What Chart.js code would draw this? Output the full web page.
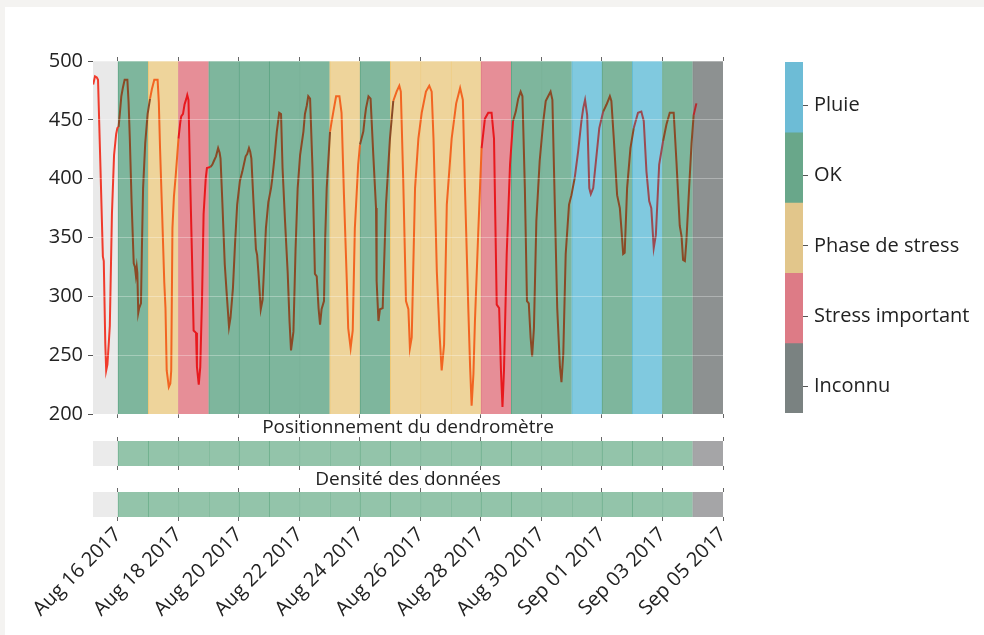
<!DOCTYPE html>
<html>
<head>
<meta charset="utf-8">
<script src="https://cdn.jsdelivr.net/npm/chart.js@4.4.0/dist/chart.umd.min.js"></script>
<style>
  body { margin: 0; width: 984px; height: 635px; overflow: hidden; position: relative; background: #f4f3f1; }
  #card { position: absolute; left: 5px; top: 7px; right: 0; bottom: 0; background: #fff; }
  canvas { position: absolute; }
</style>
</head>
<body>
<div id="card"></div>
<canvas id="mainChart" width="760" height="401" style="left:0;top:30px"></canvas>
<canvas id="posChart" width="760" height="56" style="left:0;top:416px"></canvas>
<canvas id="densChart" width="760" height="167" style="left:0;top:468px"></canvas>
<canvas id="legendChart" width="224" height="400" style="left:760px;top:40px"></canvas>
<script>
// days are counted from Aug 16 2017 00:00
const xTickLabels = ["Aug 16 2017", "Aug 18 2017", "Aug 20 2017", "Aug 22 2017", "Aug 24 2017",
  "Aug 26 2017", "Aug 28 2017", "Aug 30 2017", "Sep 01 2017", "Sep 03 2017", "Sep 05 2017"];
const yTickValues = [200, 250, 300, 350, 400, 450, 500];

// state of each day, Aug 16 -> Sep 04
const dayStates = ["OK", "Phase de stress", "Stress important", "OK", "OK", "OK", "OK",
  "Phase de stress", "OK", "Phase de stress", "Phase de stress", "Phase de stress",
  "Stress important", "OK", "OK", "Pluie", "OK", "Pluie", "OK", "Inconnu"];
const positionStates = ["OK", "OK", "OK", "OK", "OK", "OK", "OK", "OK", "OK", "OK",
  "OK", "OK", "OK", "OK", "OK", "OK", "OK", "OK", "OK", "Inconnu"];
const densityStates = ["OK", "OK", "OK", "OK", "OK", "OK", "OK", "OK", "OK", "OK",
  "OK", "OK", "OK", "OK", "OK", "OK", "OK", "OK", "OK", "Inconnu"];
const legendStates = ["Pluie", "OK", "Phase de stress", "Stress important", "Inconnu"];

// dendrometer trace (time in days, value)
const lineTime = [-0.82, -0.76, -0.70, -0.66, -0.58, -0.50, -0.47, -0.42, -0.39, -0.35, -0.30, -0.27, -0.20, -0.13, -0.06, -0.02,
  0.02, 0.06, 0.11, 0.16, 0.22, 0.31, 0.35, 0.39, 0.45, 0.52, 0.56, 0.59, 0.62, 0.64, 0.67, 0.70, 0.76, 0.79, 0.83, 0.90, 0.98,
  1.06, 1.12, 1.20, 1.31, 1.35, 1.39, 1.46, 1.53, 1.57, 1.61, 1.68, 1.73, 1.76, 1.80, 1.85, 1.91,
  2.00, 2.06, 2.09, 2.15, 2.20, 2.26, 2.29, 2.33, 2.39, 2.45, 2.50, 2.58, 2.61, 2.67, 2.72, 2.78, 2.83, 2.90, 2.94,
  3.06, 3.12, 3.17, 3.24, 3.31, 3.36, 3.39, 3.45, 3.53, 3.60, 3.67, 3.72, 3.80, 3.87, 3.94,
  4.03, 4.11, 4.22, 4.27, 4.33, 4.37, 4.41, 4.48, 4.56, 4.60, 4.64, 4.72, 4.78, 4.84, 4.89, 4.97,
  5.06, 5.10, 5.17, 5.25, 5.33, 5.39, 5.44, 5.52, 5.61, 5.67, 5.72, 5.76, 5.80, 5.87, 5.94,
  6.02, 6.13, 6.18, 6.24, 6.29, 6.35, 6.43, 6.51, 6.57, 6.63, 6.68, 6.73, 6.81, 6.85, 6.90,
  7.01, 7.06, 7.12, 7.21, 7.32, 7.39, 7.47, 7.56, 7.61, 7.69, 7.76, 7.83, 7.94,
  8.00, 8.11, 8.16, 8.20, 8.28, 8.35, 8.44, 8.53, 8.55, 8.61, 8.66, 8.75, 8.86, 8.99,
  9.10, 9.21, 9.30, 9.35, 9.43, 9.52, 9.60, 9.65, 9.71, 9.82, 9.93,
  10.04, 10.18, 10.29, 10.37, 10.43, 10.54, 10.63, 10.70, 10.78, 10.87,
  11.03, 11.18, 11.31, 11.40, 11.47, 11.58, 11.64, 11.69, 11.75, 11.80, 11.91,
  12.02, 12.13, 12.24, 12.35, 12.43, 12.52, 12.60, 12.66, 12.71, 12.76, 12.85, 12.96,
  13.06, 13.15, 13.23, 13.31, 13.37, 13.45, 13.52, 13.58, 13.64, 13.69, 13.75, 13.83, 13.94,
  14.06, 14.14, 14.22, 14.30, 14.36, 14.44, 14.52, 14.61, 14.66, 14.72, 14.80, 14.91, 14.99,
  15.10, 15.21, 15.32, 15.38, 15.44, 15.51, 15.58, 15.63, 15.71, 15.80, 15.91,
  16.04, 16.15, 16.26, 16.31, 16.39, 16.50, 16.59, 16.64, 16.70, 16.75, 16.83, 16.94,
  17.05, 17.19, 17.30, 17.38, 17.47, 17.56, 17.63, 17.71, 17.78, 17.89,
  18.02, 18.13, 18.24, 18.37, 18.46, 18.57, 18.63, 18.68, 18.74, 18.79, 18.88, 18.96,
  19.03, 19.12];
const lineValue = [480, 487, 486, 484, 410, 334, 330, 260, 237, 242, 262, 275, 370, 420, 438, 443,
  444, 455, 470, 477, 484, 484, 465, 435, 380, 328, 325, 318, 325, 320, 286, 290, 294, 340, 392, 430, 455,
  468, 476, 484, 484, 465, 426, 370, 312, 290, 237, 223, 226, 237, 358, 385, 403,
  434, 448, 453, 455, 463, 468, 471, 467, 395, 330, 271, 269, 240, 225, 240, 300, 370, 400, 409,
  410, 412, 415, 419, 426, 422, 417, 380, 327, 300, 274, 282, 307, 345, 378,
  398, 406, 419, 421, 426, 423, 417, 380, 340, 335, 321, 289, 297, 330, 358, 380,
  392, 400, 417, 440, 456, 455, 409, 365, 320, 279, 254, 262, 270, 340, 392,
  420, 440, 455, 462, 470, 468, 409, 319, 317, 290, 276, 289, 296, 350, 392,
  440, 448, 457, 470, 470, 456, 386, 316, 273, 256, 271, 358, 412,
  429, 440, 452, 460, 470, 468, 420, 375, 313, 279, 289, 290, 378, 434,
  466, 474, 479, 474, 398, 296, 289, 256, 265, 392, 434,
  456, 474, 479, 474, 434, 321, 268, 237, 259, 378,
  434, 464, 477, 467, 392, 290, 240, 207, 234, 279, 355,
  426, 451, 456, 456, 434, 293, 290, 237, 206, 237, 336, 412,
  449, 457, 468, 474, 470, 392, 296, 294, 265, 249, 273, 364, 415,
  449, 466, 470, 474, 467, 378, 290, 240, 227, 251, 336, 378, 386,
  401, 423, 449, 460, 467, 454, 392, 387, 392, 415, 443,
  457, 463, 470, 466, 434, 386, 375, 358, 336, 337, 392, 426,
  443, 456, 457, 449, 406, 381, 375, 341, 352, 412,
  432, 446, 456, 456, 415, 360, 351, 331, 330, 347, 392, 430,
  454, 464];

// styles
const tMin = -0.826;
const tMax = 20;
const bandColors = { "Pluie": "#80c9df", "OK": "#7eb69d", "Phase de stress": "#eed49b", "Stress important": "#e68e97", "Inconnu": "#8d9191" };
const bandEdges = { "Pluie": "#62bcd2", "OK": "#5fa585", "Phase de stress": "#f0c874", "Stress important": "#e07a86", "Inconnu": "#858a8a" };
const stripColors = { "OK": "#93c4aa", "Inconnu": "#a5a5a7" };
const stripEdges = { "OK": "#6fb08e", "Inconnu": "#a0a0a2" };
const legendColors = { "Pluie": "#6dbcd6", "OK": "#69a78a", "Phase de stress": "#e2c68b", "Stress important": "#dd7b86", "Inconnu": "#7a8281" };
const lineColors = { pre: "#f03b2c", "OK": "#8a4a26", "Phase de stress": "#f26522", "Stress important": "#e8191e", "Pluie": "#9b4b52", "Inconnu": "#b82a2c" };

Chart.defaults.font.family = '"Open Sans", "Noto Sans", sans-serif';
Chart.defaults.color = "#222";
Chart.defaults.animation = false;

// gray panel behind each plot area
const panelBg = {
  id: "panelBg",
  beforeDraw(chart, args, opts) {
    const { ctx, chartArea: a } = chart;
    ctx.save();
    ctx.fillStyle = opts.color;
    ctx.fillRect(a.left, a.top, a.width, a.height);
    ctx.restore();
  }
};

function lineColorAt(t) {
  if (t < 0) return lineColors.pre;
  const i = Math.min(dayStates.length - 1, Math.floor(t));
  return lineColors[dayStates[i]];
}

function xAxis(position, height, showLabels) {
  return {
    type: "linear",
    position: position,
    min: tMin,
    max: tMax,
    bounds: "data",
    offset: false,
    grid: { drawOnChartArea: false, offset: false, tickLength: 4, tickColor: "#666" },
    border: { display: false },
    ticks: showLabels
      ? {
          autoSkip: false,
          minRotation: 45,
          maxRotation: 45,
          padding: 2,
          font: { size: 20 },
          color: "#222",
          callback: (v) => xTickLabels[Math.round(v / 2)]
        }
      : { display: false },
    afterBuildTicks: (s) => {
      s.ticks = xTickLabels.map((_, i) => ({ value: i * 2 }));
    },
    afterFit: (s) => {
      s.height = height;
    }
  };
}

function bandDataset(states, colors, edges, lo, hi) {
  return {
    type: "bar",
    data: states.map((s, i) => ({ x: i + 0.5, y: [lo, hi] })),
    backgroundColor: states.map((s) => colors[s]),
    borderColor: states.map((s) => edges[s]),
    borderWidth: { left: 1, right: 0, top: 0, bottom: 0 },
    borderSkipped: false,
    barPercentage: 1,
    categoryPercentage: 1,
    order: 2
  };
}

// main dendrometer chart
new Chart(document.getElementById("mainChart"), {
  type: "line",
  data: {
    datasets: [
      bandDataset(dayStates, bandColors, bandEdges, yTickValues[0], yTickValues[yTickValues.length - 1]),
      {
        type: "line",
        data: lineTime.map((t, i) => ({ x: t, y: lineValue[i] })),
        borderColor: lineColors.OK,
        borderWidth: 2,
        pointRadius: 0,
        tension: 0,
        segment: { borderColor: (ctx) => lineColorAt(ctx.p0.parsed.x) },
        order: 1
      }
    ]
  },
  options: {
    responsive: false,
    layout: { padding: { left: 0, right: 37, top: 0, bottom: 0 } },
    scales: {
      x: xAxis("bottom", 16, false),
      xTop: xAxis("top", 31, false),
      y: {
        type: "linear",
        min: yTickValues[0],
        max: yTickValues[yTickValues.length - 1],
        ticks: { font: { size: 20 }, color: "#222", padding: 5 },
        afterBuildTicks: (s) => {
          s.ticks = yTickValues.map((v) => ({ value: v }));
        },
        grid: { color: "rgba(255,255,255,0.3)", tickColor: "#555", tickLength: 5, z: 1 },
        border: { display: false },
        afterFit: (s) => {
          s.width = 93;
        }
      }
    },
    plugins: {
      legend: { display: false },
      tooltip: { enabled: false },
      panelBg: { color: "#e9e9e9" }
    }
  },
  plugins: [panelBg]
});

// the two status strips under the main plot
function stripChart(id, title, states, titleGap, bottomHeight, showLabels) {
  new Chart(document.getElementById(id), {
    type: "line",
    data: { datasets: [bandDataset(states, stripColors, stripEdges, 0, 1)] },
    options: {
      responsive: false,
      layout: { padding: { left: 93, right: 37, top: 0, bottom: 0 } },
      scales: {
        x: xAxis("bottom", bottomHeight, showLabels),
        xTop: xAxis("top", titleGap, false),
        y: { display: false, min: 0, max: 1 }
      },
      plugins: {
        legend: { display: false },
        tooltip: { enabled: false },
        title: { display: true, text: title, fullSize: false, font: { size: 19, weight: "normal" }, color: "#222", padding: 0 },
        panelBg: { color: "#ebebeb" }
      }
    },
    plugins: [panelBg]
  });
}

stripChart("posChart", "Positionnement du dendromètre", positionStates, 2.2, 6, false);
stripChart("densChart", "Densité des données", densityStates, 1.2, 118, true);

// colour bar legend
const n = legendStates.length;
new Chart(document.getElementById("legendChart"), {
  type: "bar",
  data: {
    labels: [""],
    datasets: legendStates.map((s, i) => ({
      data: [[n - 1 - i, n - i]],
      backgroundColor: legendColors[s],
      borderWidth: 0,
      grouped: false,
      barPercentage: 1,
      categoryPercentage: 1
    }))
  },
  options: {
    responsive: false,
    layout: { padding: { left: 25, right: 0, top: 22, bottom: 27 } },
    scales: {
      x: { display: false },
      y: {
        position: "right",
        min: 0,
        max: n,
        ticks: {
          font: { size: 20 },
          color: "#222",
          padding: 6,
          callback: (v) => legendStates[n - 1 - Math.floor(v)]
        },
        afterBuildTicks: (s) => {
          s.ticks = legendStates.map((_, i) => ({ value: n - i - 0.5 - 0.12 }));
        },
        grid: { drawOnChartArea: false, tickLength: 5, tickColor: "#555" },
        border: { display: false },
        afterFit: (s) => {
          s.width = 181;
        }
      }
    },
    plugins: { legend: { display: false }, tooltip: { enabled: false } }
  }
});
</script>
</body>
</html>
